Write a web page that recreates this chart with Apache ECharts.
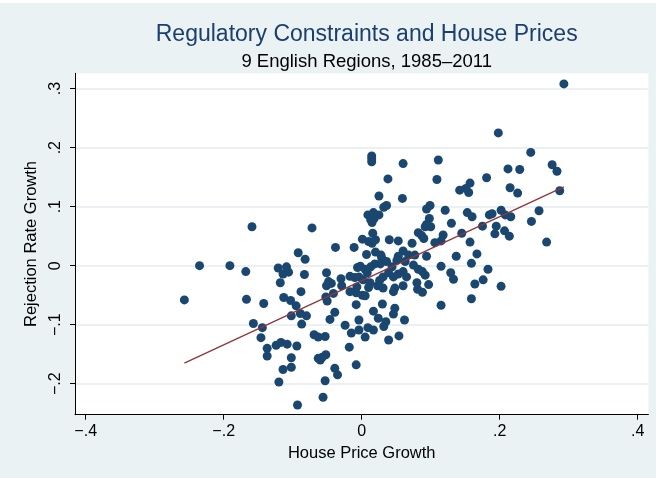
<!DOCTYPE html>
<html>
<head>
<meta charset="utf-8">
<script src="https://cdn.jsdelivr.net/npm/echarts@6/dist/echarts.min.js"></script>
<style>
  html, body { margin: 0; padding: 0; background: #fff; }
  #chart { width: 656px; height: 478px; }
</style>
</head>
<body>
<div id="chart"></div>
<script>
// house price growth (x) and rejection rate growth (y), one entry per region-year
const houseGrowth = [
  -0.257, -0.235, -0.191, -0.168, -0.159, -0.167, -0.142, -0.157, -0.144, -0.146,
  -0.137, -0.137, -0.124, -0.117, -0.108, -0.094, -0.102, -0.114, -0.102, -0.120,
  -0.093, -0.092, -0.082, -0.121, -0.109, -0.114, -0.106, -0.118, -0.083, -0.088,
  -0.113, -0.103, -0.095, -0.102, -0.089, -0.080, -0.087,
  -0.072, -0.038, -0.051, -0.048, -0.044, -0.051, -0.030, -0.029, -0.052, -0.050,
  -0.041, -0.039, -0.046, -0.069, -0.063, -0.053, -0.063, -0.057, -0.052, -0.060,
  -0.039, -0.035, -0.053, -0.056, -0.024,
  0.0145, 0.0145, 0.0145, 0.038, 0.025, 0.032, 0.036, 0.009, 0.017, 0.025,
  0.013, 0.018, 0.015, 0.016, 0.001, 0.010, 0.015, 0.020, 0.040, -0.011,
  -0.006, -0.002, -0.017, -0.010, -0.004, 0.002, 0.008, 0.013, 0.019, 0.027,
  0.029, 0.036, 0.044, 0.039, 0.031, 0.026, 0.023, 0.031, 0.012, 0.010,
  -0.007, -0.017, -0.008, 0.001, 0.005, -0.008, 0.005, 0.007, 0.020, 0.028,
  -0.004, -0.015, -0.018, -0.008, -0.004, 0.005, 0.009, 0.017, 0.017, 0.024,
  0.035, 0.032, 0.039, 0.030, 0.048, 0.046, 0.054, 0.062,
  0.060, 0.111, 0.109, 0.059, 0.094, 0.099, 0.121, 0.098, 0.094, 0.100,
  0.092, 0.082, 0.087, 0.090, 0.130, 0.145, 0.118, 0.115, 0.106, 0.073,
  0.053, 0.137, 0.094, 0.115, 0.129, 0.133, 0.115, 0.060, 0.053, 0.068,
  0.077, 0.051, 0.063, 0.075, 0.082, 0.088, 0.092, 0.060, 0.053, 0.046,
  0.065, 0.080, 0.097, 0.081, 0.088, 0.060, 0.048, 0.046,
  0.293, 0.198, 0.245, 0.276, 0.283, 0.287, 0.212, 0.229, 0.215, 0.226,
  0.181, 0.142, 0.151, 0.157, 0.155, 0.153, 0.160, 0.185, 0.189, 0.202,
  0.208, 0.216, 0.195, 0.207, 0.214, 0.193, 0.175, 0.246, 0.257, 0.268,
  0.157, 0.167, 0.159, 0.183, 0.176, 0.164, 0.202, 0.159
];
const rejectGrowth = [
  -0.058, 0.000, 0.000, -0.010, 0.066, -0.057, -0.064, -0.098, -0.105, -0.122,
  -0.140, -0.153, -0.135, -0.130, -0.133, -0.136, -0.156, -0.176, -0.172, -0.197,
  -0.236, 0.022, 0.011, -0.004, -0.002, -0.014, -0.011, -0.029, -0.015, -0.044,
  -0.054, -0.059, -0.068, -0.085, -0.081, -0.085, -0.099,
  0.064, 0.031, -0.012, -0.027, -0.030, -0.034, -0.022, -0.034, -0.053, -0.060,
  -0.047, -0.079, -0.091, -0.117, -0.121, -0.120, -0.157, -0.155, -0.151, -0.160,
  -0.174, -0.185, -0.195, -0.223, -0.101,
  0.186, 0.181, 0.176, 0.147, 0.118, 0.099, 0.102, 0.086, 0.090, 0.086,
  0.078, 0.080, 0.073, 0.055, 0.045, 0.041, 0.038, 0.044, 0.044, 0.031,
  -0.003, -0.001, -0.018, -0.020, -0.019, -0.024, -0.012, -0.002, 0.003, 0.003,
  0.013, 0.007, -0.002, -0.012, -0.019, -0.025, -0.034, -0.038, -0.029, -0.037,
  -0.036, -0.044, -0.046, -0.050, -0.051, -0.066, -0.006, 0.019, 0.023, 0.018,
  -0.092, -0.114, -0.138, -0.168, -0.109, -0.121, -0.105, -0.109, -0.077, -0.089,
  -0.095, -0.103, -0.126, -0.065, -0.072, -0.082, -0.119, -0.092,
  0.173, 0.179, 0.146, 0.114, 0.096, 0.102, 0.094, 0.080, 0.070, 0.066,
  0.066, 0.056, 0.051, 0.046, 0.072, 0.055, 0.052, 0.042, 0.039, 0.038,
  0.042, 0.016, 0.016, -0.001, -0.012, -0.023, -0.067, 0.025, 0.016, 0.018,
  0.018, 0.009, 0.007, 0.001, -0.006, -0.010, -0.016, -0.010, -0.014, -0.019,
  -0.019, -0.029, -0.032, -0.040, -0.045, -0.034, -0.038, -0.044,
  0.308, 0.225, 0.192, 0.171, 0.160, 0.127, 0.164, 0.163, 0.132, 0.123,
  0.149, 0.128, 0.131, 0.140, 0.124, 0.090, 0.083, 0.086, 0.088, 0.094,
  0.086, 0.083, 0.067, 0.059, 0.050, 0.054, 0.067, 0.075, 0.093, 0.040,
  0.040, 0.020, 0.004, -0.006, -0.024, -0.031, -0.035, -0.056
];
// fitted line end points
const fitX = [-0.257, 0.293];
const fitY = [-0.165, 0.1335];
const xTicks = [-0.4, -0.2, 0, 0.2, 0.4];
const yTicks = [-0.2, -0.1, 0, 0.1, 0.2, 0.3];

// stata style labels: .2, −.1, 0
function stataFmt(v) {
  if (Math.abs(v) < 1e-9) return "0";
  var s = Math.abs(v).toFixed(1).replace(/^0/, "");
  return (v < 0 ? "\u2212" : "") + s;
}

var font = "Liberation Sans";
var myChart = echarts.init(document.getElementById("chart"));
myChart.setOption({
  backgroundColor: "#eaf2f3",
  animation: false,
  graphic: [
    // thin white strip along the top edge
    { type: "rect", left: 0, top: 0, shape: { width: 656, height: 3 }, style: { fill: "#fff" } },
  ],
  title: [
    {
      text: "Regulatory Constraints and House Prices",
      left: 361.7,
      top: 18.5,
      textAlign: "center",
      textStyle: { color: "#1c3f6e", fontSize: 23, fontWeight: "normal", fontFamily: font },
    },
    {
      text: "9 English Regions, 1985\u20132011",
      left: 361.7,
      top: 47,
      textAlign: "center",
      textStyle: { color: "#000", fontSize: 18.5, fontWeight: "normal", fontFamily: font },
    },
  ],
  grid: {
    left: 75,
    right: 7.6,
    top: 73.3,
    bottom: 63.3,
    show: true,
    backgroundColor: "#fff",
    borderWidth: 0,
  },
  xAxis: {
    type: "value",
    min: -0.4155,
    max: 0.4155,
    name: "House Price Growth",
    nameLocation: "middle",
    nameGap: 27,
    nameTextStyle: { color: "#000", fontSize: 16.5, fontFamily: font },
    axisLine: { show: true, onZero: false, lineStyle: { color: "#000", width: 1 } },
    axisTick: { show: true, customValues: xTicks, length: 5, lineStyle: { color: "#000" } },
    axisLabel: {
      customValues: xTicks,
      formatter: stataFmt,
      color: "#000",
      fontSize: 16,
      fontFamily: font,
      margin: 9,
    },
    splitLine: { show: false },
  },
  yAxis: {
    type: "value",
    min: -0.2525,
    max: 0.326,
    name: "Rejection Rate Growth",
    nameLocation: "middle",
    nameGap: 26,
    nameTextStyle: { color: "#000", fontSize: 16.5, fontFamily: font },
    axisLine: { show: true, onZero: false, lineStyle: { color: "#000", width: 1 } },
    axisTick: { show: true, customValues: yTicks, length: 5, lineStyle: { color: "#000" } },
    axisLabel: {
      customValues: yTicks,
      formatter: stataFmt,
      rotate: 90,
      color: "#000",
      fontSize: 16,
      fontFamily: font,
      margin: 11,
    },
    splitLine: { show: true, lineStyle: { color: "#e4edef", width: 1.5 } },
  },
  series: [
    {
      type: "scatter",
      symbolSize: 9,
      itemStyle: { color: "#1a476f", opacity: 1 },
      data: houseGrowth.map(function (x, i) { return [x, rejectGrowth[i]]; }),
    },
    {
      type: "line",
      showSymbol: false,
      lineStyle: { color: "#90353b", width: 1.3 },
      data: fitX.map(function (x, i) { return [x, fitY[i]]; }),
    },
  ],
});
</script>
</body>
</html>
